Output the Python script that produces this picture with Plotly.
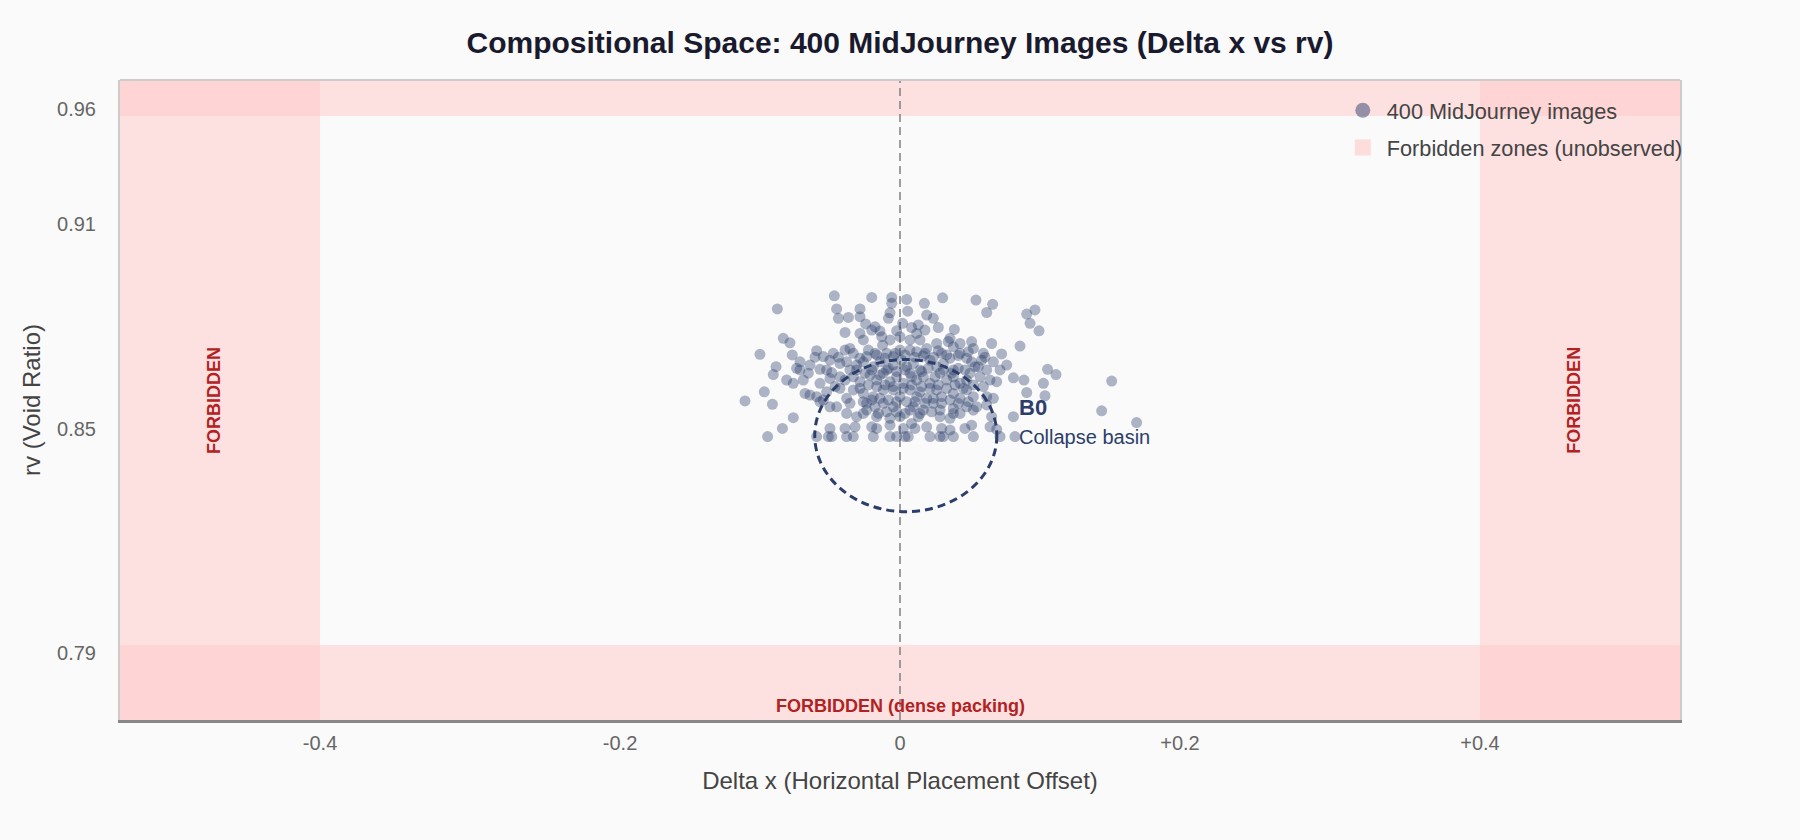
import plotly.graph_objects as go

# ---- data (Delta x, rv), grouped by rows ----
dx = [
    -0.0453, -0.0195, -0.0057, 0.0046, 0.0294, 0.0524, 0.0639, -0.0057,
    -0.0846, -0.0437, -0.0276, -0.0069, 0.0053, 0.0168, 0.0598, 0.0931, 0.0874, 0.0184, -0.0276,
    -0.0425, -0.0356, -0.0080, 0.0230, -0.0237, 0.0018, 0.0126, 0.0897, 0.0264,
    -0.0195, -0.0138, -0.0023, 0.0080, 0.0172, 0.0375, 0.0959, -0.0379, -0.0276, -0.0172, 0.0115,
    -0.0805, -0.0759, -0.0253, -0.0126, -0.0120, 0.0069, 0.0138, 0.0345, 0.0333, 0.0494, 0.0632, 0.0828, 0.0000, -0.0069, 0.0253, 0.0414,
    -0.0966, -0.0743, -0.0575, -0.0460, -0.0379, -0.0345, -0.0172, -0.0092, 0.0000, 0.0069, 0.0115, 0.0184, 0.0264,
    0.0368, 0.0402, 0.0471, 0.0506, 0.0701, 0.0586, -0.0586, -0.0425, -0.0690, -0.0046, -0.0230, 0.0161, 0.0322,
    -0.0855, -0.0690, -0.0632, -0.0552, -0.0506, -0.0471, 0.0563, 0.0736, 0.1018, -0.0368, -0.0299, -0.0253, -0.0184,
    -0.0138, -0.0092, -0.0046, 0.0011, 0.0046, 0.0092, 0.0138, 0.0207, 0.0253, 0.0299, 0.0368, 0.0448, 0.0494, 0.0540,
    0.0598, 0.0690, -0.0621, -0.0713,
    -0.0874, -0.0782, -0.0736, -0.0379, -0.0414, -0.0322, -0.0276, -0.0207, -0.0161, -0.0115, -0.0069, -0.0023, 0.0023,
    0.0069, 0.0115, 0.0161, 0.0207, 0.0276, 0.0322, 0.0368, 0.0414, 0.0460, 0.0552, 0.0621, 0.0667, 0.0782, 0.0855,
    0.1076, 0.0989, -0.0667, -0.0552, -0.0483,
    -0.0936, -0.0655, -0.0621, -0.0575, -0.0414, -0.0368, -0.0253, -0.0184, -0.0115, 0.0000, -0.0046, 0.0069, 0.0115,
    0.0138, 0.0184, 0.0253, 0.0287, 0.0368, 0.0414, 0.0506, 0.0575, 0.0598, 0.0644, 0.0874, 0.1000, -0.0322, -0.0506,
    -0.0529, -0.1069, 0.1460, 0.0460,
    -0.0880, -0.0736, -0.0552, -0.0483, -0.0437, -0.0345, -0.0230, -0.0172, -0.0115, -0.0046, -0.0368, -0.0299, -0.0253,
    -0.0069, 0.0034, 0.0230, 0.0092, 0.0161, 0.0276, 0.0345, 0.0368, 0.0414, 0.0460, 0.0529, 0.0632, 0.0782, 0.1391,
    -0.0149, 0.0126, 0.0598, -0.0023,
    -0.0811, -0.0483, -0.0379, -0.0195, -0.0161, 0.0023, 0.0080, 0.0103, 0.0184, 0.0287, 0.0448, 0.0494, 0.0621, 0.0667,
    0.1632, -0.0310, -0.0069, 0.0345,
    -0.0913, -0.0575, -0.0494, -0.0471, -0.0368, -0.0322, -0.0184, -0.0069, -0.0023, 0.0034, 0.0057, 0.0207, 0.0276,
    0.0299, 0.0368, 0.0506, 0.0690, 0.0793,
    -0.0322, -0.0276, -0.0218, -0.0161, -0.0103, -0.0034, 0.0034, 0.0103, 0.0172, 0.0230, 0.0287, 0.0345, 0.0414, 0.0460,
    -0.0299, -0.0241, -0.0195, -0.0138, -0.0080, -0.0023, 0.0034, 0.0080, 0.0149, 0.0195, 0.0241, 0.0299, 0.0356, 0.0402, 0.0483,
    -0.0276, -0.0218, -0.0161, -0.0103, -0.0046, 0.0023, 0.0080, 0.0149, 0.0207, 0.0264, 0.0322, 0.0379, 0.0437, 0.0506,
    -0.0253, -0.0195, -0.0138, -0.0080, -0.0023, 0.0046, 0.0103, 0.0172, 0.0230, 0.0287, 0.0345, 0.0402, 0.0471,
    -0.0230, -0.0161, -0.0092, 0.0000, 0.0069, 0.0138, 0.0218, 0.0276, 0.0368,
    -0.0414, -0.0483, -0.0529, 0.0517, 0.0575, 0.0644, -0.0345, -0.0448, 0.0506,
]
rv = [
    0.8949, 0.8944, 0.8944, 0.8938, 0.8943, 0.8936, 0.8923, 0.8926,
    0.8909, 0.8909, 0.8909, 0.8897, 0.8902, 0.8926, 0.8898, 0.8906, 0.8893, 0.8890, 0.8885,
    0.8880, 0.8883, 0.8880, 0.8880, 0.8863, 0.8865, 0.8860, 0.8865, 0.8852,
    0.8844, 0.8841, 0.8842, 0.8852, 0.8844, 0.8846, 0.8842, 0.8837, 0.8834, 0.8854, 0.8834,
    0.8819, 0.8805, 0.8814, 0.8824, 0.8798, 0.8814, 0.8814, 0.8819, 0.8809, 0.8809, 0.8803, 0.8795, 0.8824, 0.8814, 0.8803, 0.8803,
    0.8770, 0.8768, 0.8781, 0.8773, 0.8783, 0.8788, 0.8773, 0.8773, 0.8783, 0.8783, 0.8778, 0.8788, 0.8781,
    0.8793, 0.8766, 0.8778, 0.8788, 0.8771, 0.8761, 0.8761, 0.8761, 0.8747, 0.8763, 0.8763, 0.8765, 0.8768,
    0.8732, 0.8722, 0.8712, 0.8724, 0.8722, 0.8714, 0.8752, 0.8737, 0.8724, 0.8747, 0.8737, 0.8747, 0.8732,
    0.8747, 0.8722, 0.8737, 0.8752, 0.8732, 0.8742, 0.8722, 0.8752, 0.8732, 0.8742, 0.8722, 0.8722, 0.8747, 0.8732,
    0.8722, 0.8722, 0.8737, 0.8727,
    0.8708, 0.8691, 0.8681, 0.8691, 0.8701, 0.8701, 0.8686, 0.8706, 0.8691, 0.8712, 0.8686, 0.8701, 0.8681,
    0.8712, 0.8691, 0.8701, 0.8681, 0.8712, 0.8691, 0.8701, 0.8681, 0.8691, 0.8701, 0.8691, 0.8686, 0.8698, 0.8691,
    0.8708, 0.8681, 0.8691, 0.8681, 0.8696,
    0.8655, 0.8650, 0.8645, 0.8640, 0.8666, 0.8635, 0.8650, 0.8640, 0.8661, 0.8640, 0.8661, 0.8661, 0.8640,
    0.8655, 0.8635, 0.8661, 0.8640, 0.8650, 0.8635, 0.8640, 0.8671, 0.8640, 0.8635, 0.8653, 0.8643, 0.8661, 0.8655,
    0.8630, 0.8627, 0.8688, 0.8661,
    0.8617, 0.8576, 0.8625, 0.8609, 0.8609, 0.8620, 0.8620, 0.8609, 0.8620, 0.8609, 0.8589, 0.8579, 0.8589,
    0.8574, 0.8589, 0.8620, 0.8609, 0.8599, 0.8579, 0.8574, 0.8604, 0.8589, 0.8609, 0.8609, 0.8579, 0.8579, 0.8597,
    0.8589, 0.8579, 0.8615, 0.8594,
    0.8543, 0.8543, 0.8543, 0.8548, 0.8543, 0.8543, 0.8558, 0.8543, 0.8548, 0.8543, 0.8543, 0.8553, 0.8548, 0.8540,
    0.8561, 0.8548, 0.8553, 0.8538,
    0.8518, 0.8518, 0.8518, 0.8518, 0.8518, 0.8518, 0.8518, 0.8518, 0.8518, 0.8518, 0.8518, 0.8518, 0.8518,
    0.8518, 0.8518, 0.8518, 0.8518, 0.8518,
    0.8773, 0.8758, 0.8783, 0.8768, 0.8758, 0.8773, 0.8768, 0.8761, 0.8773, 0.8761, 0.8773, 0.8758, 0.8773, 0.8758,
    0.8722, 0.8712, 0.8722, 0.8706, 0.8727, 0.8717, 0.8722, 0.8701, 0.8717, 0.8727, 0.8701, 0.8722, 0.8712, 0.8727, 0.8712,
    0.8666, 0.8676, 0.8671, 0.8676, 0.8671, 0.8666, 0.8676, 0.8671, 0.8666, 0.8676, 0.8666, 0.8676, 0.8666, 0.8676,
    0.8625, 0.8630, 0.8635, 0.8630, 0.8625, 0.8625, 0.8625, 0.8620, 0.8635, 0.8620, 0.8630, 0.8620, 0.8625,
    0.8599, 0.8579, 0.8594, 0.8579, 0.8599, 0.8589, 0.8594, 0.8599, 0.8589,
    0.8742, 0.8752, 0.8763, 0.8732, 0.8773, 0.8747, 0.8722, 0.8671, 0.8599,
]

# axis ticks
x_tickvals = [-0.4, -0.1931, 0.0, 0.1931, 0.4]
x_ticktext = ["-0.4", "-0.2", "0", "+0.2", "+0.4"]
y_tickvals = [0.9521, 0.9169, 0.8541, 0.7855]
y_ticktext = ["0.96", "0.91", "0.85", "0.79"]

X_RANGE = [-0.538, 0.538]
Y_RANGE = [0.765, 0.961]
DX_LIMIT = 0.4          # forbidden |Delta x| beyond this
RV_HIGH = 0.950         # forbidden above
RV_LOW = 0.788          # forbidden below (dense packing)
BASIN_CENTER = (0.004, 0.8521)
BASIN_RADIUS = (0.0628, 0.0233)
LABEL_SHIFT = 0.0042    # vertical FORBIDDEN labels sit slightly left of band centre

FONT = "Liberation Sans, Arial, sans-serif"
NAVY = "#2c3e6b"
ZONE = "rgba(255,200,200,0.5)"
RED = "#b22222"

fig = go.Figure()

fig.add_trace(go.Scatter(
    x=dx, y=rv, mode="markers", showlegend=False,
    marker=dict(size=11, color=NAVY, opacity=0.38, line=dict(width=0)),
    hoverinfo="skip",
))
# legend entries
fig.add_trace(go.Scatter(
    x=[None], y=[None], mode="markers", name="400 MidJourney images", legendgroup="pts",
    marker=dict(size=15, color=NAVY, opacity=0.5, line=dict(width=0)),
))
fig.add_trace(go.Scatter(
    x=[None], y=[None], mode="markers", name="Forbidden zones (unobserved)", legendgroup="zones",
    marker=dict(size=16, symbol="square", color="rgb(255,200,200)", opacity=0.6, line=dict(width=0)),
))

shapes = [
    # forbidden zones
    dict(type="rect", xref="x", yref="paper", x0=X_RANGE[0], x1=-DX_LIMIT, y0=0, y1=1,
         fillcolor=ZONE, line=dict(width=0), layer="below"),
    dict(type="rect", xref="x", yref="paper", x0=DX_LIMIT, x1=X_RANGE[1], y0=0, y1=1,
         fillcolor=ZONE, line=dict(width=0), layer="below"),
    dict(type="rect", xref="paper", yref="y", x0=0, x1=1, y0=RV_HIGH, y1=Y_RANGE[1],
         fillcolor=ZONE, line=dict(width=0), layer="below"),
    dict(type="rect", xref="paper", yref="y", x0=0, x1=1, y0=Y_RANGE[0], y1=RV_LOW,
         fillcolor=ZONE, line=dict(width=0), layer="below"),
    # centre line
    dict(type="line", xref="x", yref="paper", x0=0, x1=0, y0=0, y1=1,
         line=dict(color="#808080", width=1.5, dash="8px,5px"), layer="below"),
    # collapse basin
    dict(type="circle", xref="x", yref="y",
         x0=BASIN_CENTER[0] - BASIN_RADIUS[0], x1=BASIN_CENTER[0] + BASIN_RADIUS[0],
         y0=BASIN_CENTER[1] - BASIN_RADIUS[1], y1=BASIN_CENTER[1] + BASIN_RADIUS[1],
         line=dict(color=NAVY, width=3, dash="8px,5px"), layer="above"),
    # top border
    dict(type="line", xref="paper", yref="paper", x0=0, x1=1, y0=1, y1=1,
         line=dict(color="#cccccc", width=2), layer="above"),
]

annotations = [
    dict(x=(X_RANGE[0] - DX_LIMIT) / 2 - LABEL_SHIFT, y=0.5, xref="x", yref="paper",
         text="<b>FORBIDDEN</b>", textangle=-90, showarrow=False,
         font=dict(size=18, color=RED, family=FONT)),
    dict(x=(X_RANGE[1] + DX_LIMIT) / 2 - LABEL_SHIFT, y=0.5, xref="x", yref="paper",
         text="<b>FORBIDDEN</b>", textangle=-90, showarrow=False,
         font=dict(size=18, color=RED, family=FONT)),
    dict(x=0, y=0, xref="x", yref="paper", text="<b>FORBIDDEN (dense packing)</b>",
         yanchor="bottom", yshift=2, showarrow=False, font=dict(size=18, color=RED, family=FONT)),
    dict(x=0.0808, y=0.8606, xref="x", yref="y", text="<b>B0</b>", xanchor="left",
         showarrow=False, font=dict(size=22, color=NAVY, family=FONT)),
    dict(x=0.0808, y=0.8518, xref="x", yref="y", text="Collapse basin", xanchor="left",
         showarrow=False, font=dict(size=20, color=NAVY, family=FONT)),
]

fig.update_layout(
    width=1800, height=840,
    margin=dict(l=120, r=120, t=80, b=120),
    paper_bgcolor="#fafafa", plot_bgcolor="#fafafa",
    font=dict(family=FONT, color="#444444"),
    title=dict(text="<b>Compositional Space: 400 MidJourney Images (Delta x vs rv)</b>",
               x=0.5, xanchor="center", y=1 - 42 / 840, yanchor="middle", yref="container",
               font=dict(size=30, color="#1a1a2e", family=FONT)),
    xaxis=dict(range=X_RANGE, tickvals=x_tickvals, ticktext=x_ticktext,
               showgrid=False, zeroline=False, showline=True, linecolor="#888888", linewidth=3,
               ticks="", tickfont=dict(size=20, color="#666666"), ticklabelstandoff=3,
               title=dict(text="Delta x (Horizontal Placement Offset)", font=dict(size=24, color="#444444"),
                          standoff=20)),
    yaxis=dict(range=Y_RANGE, tickvals=y_tickvals, ticktext=y_ticktext,
               showgrid=False, zeroline=False, showline=True, linecolor="#cccccc", linewidth=2,
               mirror=True, ticks="", tickfont=dict(size=20, color="#666666"), ticklabelstandoff=18,
               title=dict(text="rv (Void Ratio)", font=dict(size=24, color="#444444"), standoff=10)),
    legend=dict(x=1.005, xanchor="right", y=0.985, yanchor="top", bgcolor="rgba(0,0,0,0)",
                font=dict(size=21.7, color="#444444"), tracegroupgap=6, itemwidth=38),
    shapes=shapes,
    annotations=annotations,
)

fig.write_html("out.html")
